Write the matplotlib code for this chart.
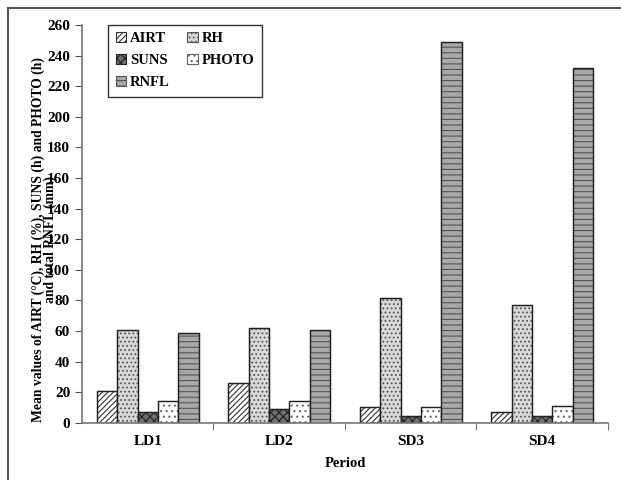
import numpy as np
import matplotlib
matplotlib.use('Agg')
import matplotlib.pyplot as plt
from matplotlib.lines import Line2D

plt.rcParams['font.family'] = ['Liberation Serif', 'DejaVu Serif']
plt.rcParams['font.weight'] = 'bold'
plt.rcParams['hatch.linewidth'] = 0.8

periods = ['LD1', 'LD2', 'SD3', 'SD4']
airt = [21, 26, 10.5, 7]
rh = [61, 62, 81.5, 77]
suns = [7, 9, 4.5, 4.5]
photo = [14, 14, 10.5, 11]
rnfl = [59, 61, 249, 232]

series = [('AIRT', airt), ('RH', rh), ('SUNS', suns), ('PHOTO', photo), ('RNFL', rnfl)]
styles = {
    'AIRT': dict(color='white', edgecolor='#333333', hatch='//////'),
    'RH': dict(color='#d8d8d8', edgecolor='#555555', hatch='....'),
    'SUNS': dict(color='#707070', edgecolor='#222222', hatch='xxxx'),
    'PHOTO': dict(color='white', edgecolor='#666666', hatch='...'),
    'RNFL': dict(color='#a8a8a8', edgecolor='#555555', hatch='---'),
}

fig = plt.figure(figsize=(6.21, 4.80), dpi=100)
ax = fig.add_axes([0.132, 0.119, 0.847, 0.829])

x = np.arange(len(periods))
w = 0.155
handles = {}
for i, (name, vals) in enumerate(series):
    pos = x + (i - 2) * w
    handles[name] = ax.bar(pos, vals, w, label=name, linewidth=0.8, **styles[name])
    # dark outline
    ax.bar(pos, vals, w, fill=False, edgecolor='#222222', linewidth=1.0)

ax.set_xlim(-0.5, 3.5)
ax.set_ylim(0, 260)
ax.set_yticks(np.arange(0, 261, 20))
ax.set_xticks(x)
ax.set_xticklabels(periods, fontsize=11, fontweight='bold')
ax.tick_params(axis='x', length=0, pad=9)
ax.set_xticks(np.arange(0.5, 4, 1), minor=True)
ax.tick_params(axis='x', which='minor', length=5, direction='out', color='#555555')
ax.tick_params(axis='y', labelsize=11, length=5, color='#555555')
for lab in ax.get_yticklabels():
    lab.set_fontweight('bold')

for s in ['top', 'right']:
    ax.spines[s].set_visible(False)
ax.spines['left'].set_color('#777777')
ax.spines['bottom'].set_color('#777777')
ax.spines['left'].set_linewidth(1.2)
ax.spines['bottom'].set_linewidth(1.2)

ax.set_xlabel('Period', fontsize=10.5, fontweight='bold', labelpad=6)
ax.set_ylabel('Mean values of AIRT (°C), RH (%), SUNS (h) and PHOTO (h)\nand total RNFL (mm)',
              fontsize=9.8, fontweight='bold', linespacing=0.85)
ax.yaxis.set_label_coords(-0.047, 0.46)

order = ['AIRT', 'SUNS', 'RNFL', 'RH', 'PHOTO']
leg = ax.legend([handles[n] for n in order], order, loc='upper left',
                bbox_to_anchor=(0.05, 1.0), borderaxespad=0, ncol=2, fontsize=10.5,
                frameon=True, fancybox=False, edgecolor='black', handlelength=0.7,
                handleheight=0.7, handletextpad=0.3, columnspacing=1.2, labelspacing=0.6,
                borderpad=0.5)
leg.get_frame().set_linewidth(1.0)
for t in leg.get_texts():
    t.set_fontweight('bold')

# page frame
fig.add_artist(Line2D([8/621, 8/621], [0, 1 - 8/480], transform=fig.transFigure, color='#555555', lw=1.5))
fig.add_artist(Line2D([8/621, 1], [1 - 8/480, 1 - 8/480], transform=fig.transFigure, color='#555555', lw=1.5))

fig.savefig('out.png', dpi=100)
